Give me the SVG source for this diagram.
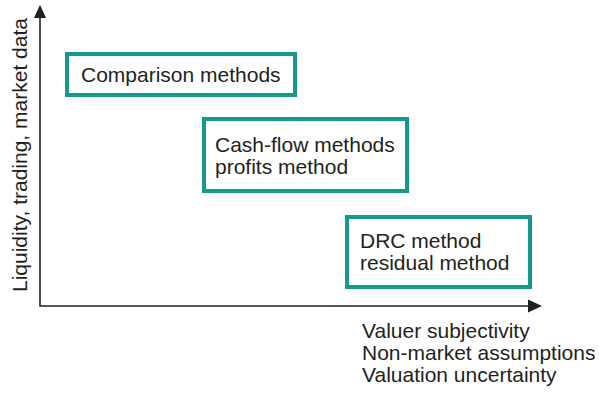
<svg xmlns="http://www.w3.org/2000/svg" width="599" height="394" viewBox="0 0 599 394">
  <style>
    .box { fill: #ffffff; stroke: #13998d; stroke-width: 4; }
    .lbl { font-family: "Liberation Sans", Arial, sans-serif; font-size: 21px; fill: #231f20; }
    .axis { stroke: #231f20; stroke-width: 1.6; fill: none; }
    .head { fill: #231f20; }
  </style>
  <rect width="599" height="394" fill="#ffffff"/>

  <!-- axes -->
  <g id="connectors">
    <path class="axis" d="M40,16 V306 H529"/>
    <polygon class="head" points="40,5 46,18 34,18"/>
    <polygon class="head" points="542,306 528,299.5 528,312.5"/>
  </g>

  <!-- axis captions -->
  <text class="lbl" transform="translate(27,292) rotate(-90)">Liquidity, trading, market data</text>
  <g id="x-caption">
    <text class="lbl" x="362" y="338">Valuer subjectivity</text>
    <text class="lbl" x="362" y="360">Non-market assumptions</text>
    <text class="lbl" x="362" y="382">Valuation uncertainty</text>
  </g>

  <!-- method boxes -->
  <g id="comparison">
    <rect class="box" x="67" y="54" width="228" height="41"/>
    <text class="lbl" x="81" y="82">Comparison methods</text>
  </g>
  <g id="cashflow">
    <rect class="box" x="204" y="119" width="203" height="72"/>
    <text class="lbl" x="215" y="152">Cash-flow methods</text>
    <text class="lbl" x="215" y="174">profits method</text>
  </g>
  <g id="drc">
    <rect class="box" x="347" y="217" width="183" height="70"/>
    <text class="lbl" x="360" y="248">DRC method</text>
    <text class="lbl" x="360" y="270">residual method</text>
  </g>
</svg>
